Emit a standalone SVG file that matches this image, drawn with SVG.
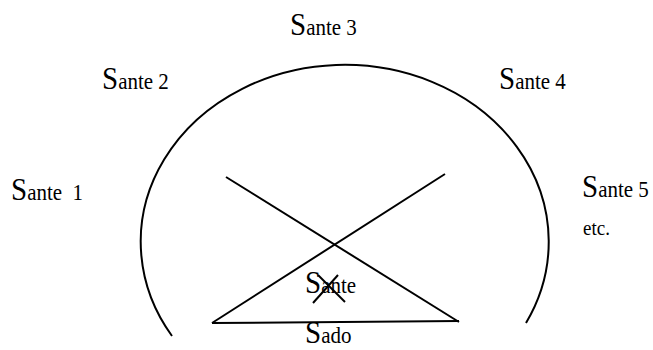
<svg xmlns="http://www.w3.org/2000/svg" width="653" height="350" viewBox="0 0 653 350">
<style>
  text { font-family: "Liberation Serif", "Times New Roman", serif; fill: #000; }
  .big { font-size: 29px; }
  .sm { font-size: 21px; }
  .etc { font-size: 19px; }
  .ln { stroke: #000; stroke-width: 2; fill: none; }
</style>
<rect width="653" height="350" fill="#fff"/>
<g id="connectors">
  <path class="ln" d="M172,336 A204,177 0 1 1 526,323"/>
  <line class="ln" x1="226" y1="177" x2="459" y2="322"/>
  <line class="ln" x1="445" y1="174" x2="212" y2="323"/>
  <line class="ln" x1="212" y1="323" x2="459" y2="321"/>
  <line class="ln" x1="318" y1="275" x2="345" y2="302"/>
  <line class="ln" x1="338" y1="275" x2="313" y2="303"/>
</g>
<g id="sante3"><text transform="translate(290,35) scale(1,1.12)"><tspan class="big">S</tspan><tspan class="sm">ante 3</tspan></text></g>
<g id="sante2"><text transform="translate(102,89) scale(1,1.12)"><tspan class="big">S</tspan><tspan class="sm">ante 2</tspan></text></g>
<g id="sante4"><text transform="translate(499,89) scale(1,1.12)"><tspan class="big">S</tspan><tspan class="sm">ante 4</tspan></text></g>
<g id="sante1"><text transform="translate(11,200) scale(1,1.12)"><tspan class="big">S</tspan><tspan class="sm" xml:space="preserve">ante  1</tspan></text></g>
<g id="sante5"><text transform="translate(582,197) scale(1,1.12)"><tspan class="big">S</tspan><tspan class="sm">ante 5</tspan></text></g>
<g id="etc"><text transform="translate(583,235) scale(1,1.12)" class="etc">etc.</text></g>
<g id="sante"><text transform="translate(305,293) scale(1,1.12)"><tspan class="big">S</tspan><tspan class="sm">ante</tspan></text></g>
<g id="sado"><text transform="translate(305,343) scale(1,1.1)"><tspan class="big">S</tspan><tspan class="sm">ado</tspan></text></g>
</svg>
